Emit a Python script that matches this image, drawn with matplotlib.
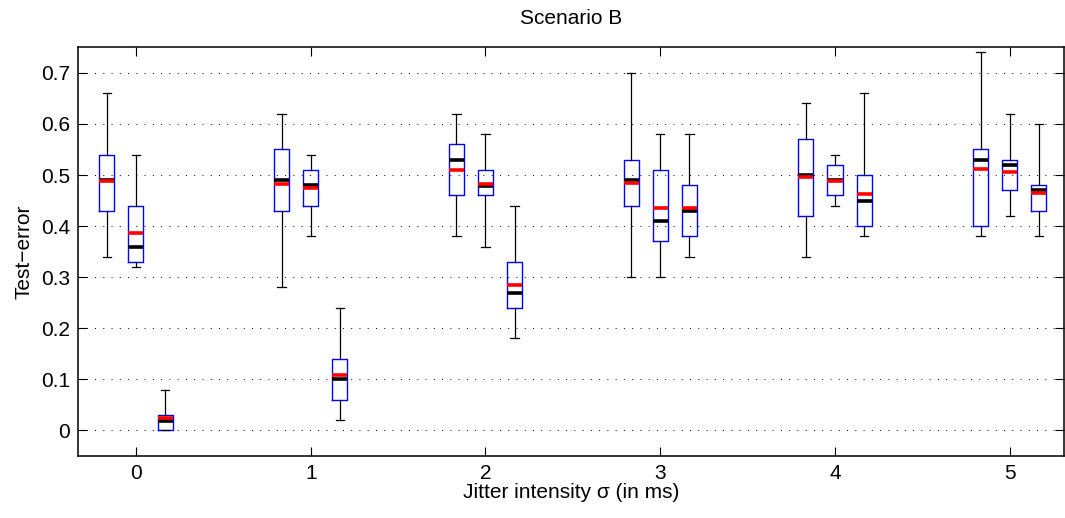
import matplotlib
matplotlib.use("Agg")
import matplotlib.pyplot as plt
import numpy as np

plt.rcParams['font.family'] = ['Liberation Sans', 'DejaVu Sans']

# jitter levels on the x axis
jitter = [0, 1, 2, 3, 4, 5]

# per jitter level, three methods (left, middle, right box)
whisker_low = [[0.34, 0.32, 0.00], [0.28, 0.38, 0.02], [0.38, 0.36, 0.18],
               [0.30, 0.30, 0.34], [0.34, 0.44, 0.38], [0.38, 0.42, 0.38]]
box_low = [[0.43, 0.33, 0.00], [0.43, 0.44, 0.06], [0.46, 0.46, 0.24],
           [0.44, 0.37, 0.38], [0.42, 0.46, 0.40], [0.40, 0.47, 0.43]]
medians = [[0.490, 0.360, 0.019], [0.490, 0.480, 0.100], [0.530, 0.478, 0.270],
           [0.491, 0.410, 0.430], [0.501, 0.490, 0.450], [0.530, 0.520, 0.470]]
means = [[0.489, 0.386, 0.025], [0.483, 0.474, 0.108], [0.510, 0.482, 0.285],
         [0.485, 0.436, 0.436], [0.496, 0.489, 0.463], [0.511, 0.505, 0.465]]
box_high = [[0.54, 0.44, 0.03], [0.55, 0.51, 0.14], [0.56, 0.51, 0.33],
            [0.53, 0.51, 0.48], [0.57, 0.52, 0.50], [0.55, 0.53, 0.48]]
whisker_high = [[0.66, 0.54, 0.08], [0.62, 0.54, 0.24], [0.62, 0.58, 0.44],
                [0.70, 0.58, 0.58], [0.64, 0.54, 0.66], [0.74, 0.62, 0.60]]

offsets = [-1/6, 0, 1/6]

stats = []
positions = []
for g, x in enumerate(jitter):
    for m, off in enumerate(offsets):
        stats.append(dict(whislo=whisker_low[g][m], q1=box_low[g][m],
                          med=medians[g][m], mean=means[g][m],
                          q3=box_high[g][m], whishi=whisker_high[g][m],
                          fliers=[]))
        positions.append(x + off)

fig = plt.figure(figsize=(10.65, 5.18), dpi=100)
ax = fig.add_axes([0.0735, 0.1197, 0.9255, 0.789])

ax.bxp(stats, positions=positions, widths=0.086, capwidths=0.048,
       showmeans=True, meanline=True, showfliers=False,
       boxprops=dict(color='blue', linewidth=1.0),
       whiskerprops=dict(color='black', linewidth=0.9, linestyle='-'),
       capprops=dict(color='black', linewidth=0.9),
       medianprops=dict(color='black', linewidth=2.6, solid_capstyle='butt'),
       meanprops=dict(color='red', linewidth=2.6, linestyle='-', solid_capstyle='butt'))

ax.set_xlim(-0.33, 5.31)
ax.set_ylim(-0.05, 0.75)
ax.set_xticks(jitter)
ax.set_xticklabels([str(j) for j in jitter])
yt = np.round(np.arange(0, 0.71, 0.1), 1)
ax.set_yticks(yt)
ax.set_yticklabels(['0'] + ['%.1f' % v for v in yt[1:]])

ax.yaxis.grid(True, color='black', linestyle=(0, (1, 7.5)), linewidth=0.7)
ax.set_axisbelow(True)
ax.tick_params(direction='in', length=6.5, width=0.8, top=True, right=True,
               labelsize=15, pad=6)
for s in ax.spines.values():
    s.set_linewidth(1.1)

ax.set_title('Scenario B', fontsize=15, pad=17)
ax.set_xlabel('Jitter intensity \u03c3 (in ms)', fontsize=15, labelpad=0)
ax.set_ylabel('Test\u2212error', fontsize=15, labelpad=5)

fig.savefig('out.png', dpi=100)
